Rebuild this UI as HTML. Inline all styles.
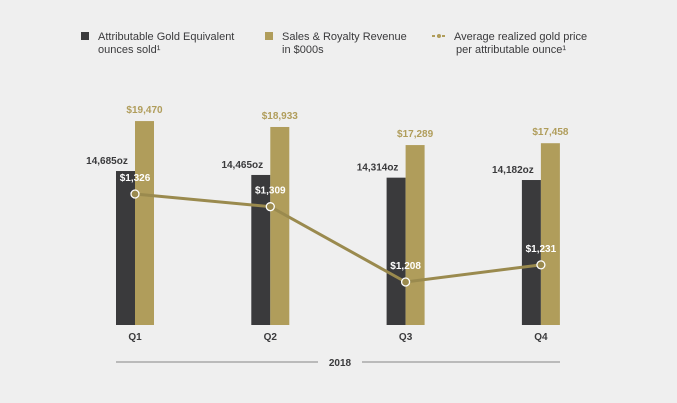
<!DOCTYPE html>
<html><head><meta charset="utf-8"><style>
body{margin:0;background:#efefef;font-family:"Liberation Sans",sans-serif}
svg{display:block}
text{font-family:"Liberation Sans",sans-serif}
</style></head><body>
<svg width="677" height="403" viewBox="0 0 677 403">
<rect width="677" height="403" fill="#efefef"/>
<g font-size="11" fill="#3a3a3c">
 <rect x="81" y="32" width="8" height="8" fill="#3a3a3c"/>
 <text x="98" y="40">Attributable Gold Equivalent</text>
 <text x="98" y="53">ounces sold¹</text>
 <rect x="265" y="32" width="8" height="8" fill="#b09d5b"/>
 <text x="282" y="40">Sales &amp; Royalty Revenue</text>
 <text x="282" y="53">in $000s</text>
 <line x1="432" y1="36" x2="446" y2="36" stroke="#b09d5b" stroke-width="2" stroke-dasharray="3,2"/>
 <circle cx="439" cy="36" r="2" fill="#b09d5b"/>
 <text x="454" y="40">Average realized gold price</text>
 <text x="456" y="53">per attributable ounce¹</text>
</g>
<g id="plot"></g>
<line x1="116" y1="362" x2="318" y2="362" stroke="#9a9a9a" stroke-width="1.2"/>
<line x1="362" y1="362" x2="560" y2="362" stroke="#9a9a9a" stroke-width="1.2"/>
<text x="340" y="366" text-anchor="middle" font-size="10" font-weight="bold" fill="#3a3a3c">2018</text>
</svg>
<script>
const categories=["Q1","Q2","Q3","Q4"];
const ounces=[14685,14465,14314,14182];
const ounceLabels=["14,685oz","14,465oz","14,314oz","14,182oz"];
const revenue=[19470,18933,17289,17458];
const revenueLabels=["$19,470","$18,933","$17,289","$17,458"];
const price=[1326,1309,1208,1231];
const priceLabels=["$1,326","$1,309","$1,208","$1,231"];

const base=325, bw=19;
const xPos=i=>135+i*135.3;
const yOz=v=>base-0.01789*(v-6078);
const yRev=v=>base-0.011*(v-931);
const yPrice=v=>194+(1326-v)*0.7458;
const ns="http://www.w3.org/2000/svg";
const g=document.getElementById('plot');
function mk(t,a){const e=document.createElementNS(ns,t);for(const k in a)e.setAttribute(k,a[k]);g.appendChild(e);return e;}
function txt(x,y,s,fill,anchor){const e=mk('text',{x:x,y:y,'font-size':10,'font-weight':'bold',fill:fill,'text-anchor':anchor||'middle'});e.textContent=s;return e;}
categories.forEach((c,i)=>{
 const x=xPos(i);
 let e=mk('rect',{x:x-bw,y:yOz(ounces[i]),width:bw,height:base-yOz(ounces[i]),fill:'#3a3a3c'});
 
 
 e=mk('rect',{x:x,y:yRev(revenue[i]),width:bw,height:base-yRev(revenue[i]),fill:'#b09d5b'});
 
 
 e=txt(x-28,yOz(ounces[i])-7,ounceLabels[i],'#3a3a3c');
 
 
 e=txt(x+bw/2,yRev(revenue[i])-8,revenueLabels[i],'#b09d5b');
 
 
 e=txt(x,340,c,'#3a3a3c');
 
 
});
const pts=price.map((v,i)=>xPos(i)+','+yPrice(v)).join(' ');
let pl=mk('polyline',{points:pts,fill:'none',stroke:'#9a8a4e','stroke-width':3});


price.forEach((v,i)=>{
 let c=mk('circle',{cx:xPos(i),cy:yPrice(v),r:4,fill:'#9a8a4e',stroke:'#ffffff','stroke-width':1.3});
 
 
 let t=txt(xPos(i),yPrice(v)-13,priceLabels[i],'#ffffff');
 
 
});
</script>
</body></html>
